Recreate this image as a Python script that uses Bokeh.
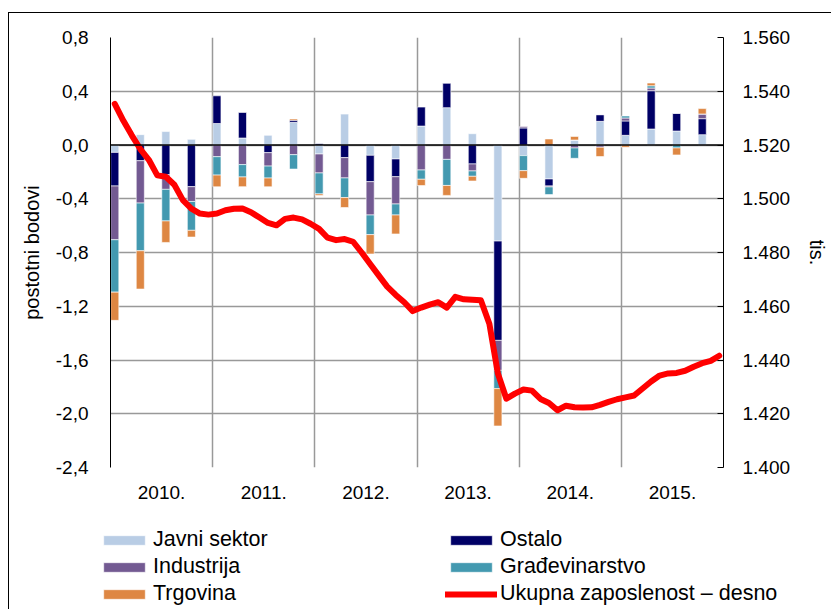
from bokeh.plotting import figure
from bokeh.models import (Range1d, LinearAxis, FixedTicker, CustomJSTickFormatter,
                          Span, Legend, LegendItem)
from bokeh.embed import file_html
from bokeh.resources import INLINE

# ---------------- data ----------------
years = ["2010.", "2011.", "2012.", "2013.", "2014.", "2015."]
left_ticks = [-2.4, -2.0, -1.6, -1.2, -0.8, -0.4, 0.0, 0.4, 0.8]
right_ticks = [1400, 1420, 1440, 1460, 1480, 1500, 1520, 1540, 1560]

series_names = ["Javni sektor", "Ostalo", "Industrija", "Građevinarstvo", "Trgovina"]
series_colors = ["#B9CDE5", "#000066", "#735A92", "#4399B0", "#DE8743"]
line_name = "Ukupna zaposlenost – desno"

# quarterly contributions (percentage points), 2010 Q1 .. 2015 Q4
javni = [-0.055, 0.077, 0.10, 0.042, 0.16, 0.052, 0.072, 0.169,
         -0.067, 0.23, -0.077, -0.104, 0.141, 0.278, 0.084, -0.715,
         -0.079, -0.253, 0.037, 0.176, 0.072, 0.119, 0.104, 0.077]
ostalo = [-0.25, -0.117, -0.22, -0.31, 0.206, 0.19, -0.057, 0.015,
          0.01, -0.094, -0.196, -0.132, 0.141, 0.181, -0.141, -0.739,
          0.127, -0.052, 0.0, 0.05, 0.107, 0.285, 0.132, 0.119]
industrija = [-0.40, -0.315, -0.11, -0.11, -0.087, -0.146, -0.10, -0.072,
              -0.141, -0.151, -0.248, -0.203, -0.186, -0.107, -0.052, -0.223,
              0.01, -0.007, -0.022, -0.017, 0.022, 0.02, 0.0, 0.035]
gradjevinarstvo = [-0.39, -0.355, -0.235, -0.215, -0.137, -0.092, -0.089, -0.107,
                   -0.156, -0.146, -0.146, -0.082, -0.069, -0.194, -0.040, -0.136,
                   -0.112, -0.057, -0.077, 0.0, 0.015, 0.017, -0.022, 0.0]
trgovina = [-0.21, -0.285, -0.16, -0.05, -0.087, -0.072, -0.065, 0.01,
            -0.012, -0.074, -0.144, -0.141, -0.047, -0.074, -0.035, -0.278,
            -0.057, 0.045, 0.027, -0.069, -0.017, 0.02, -0.052, 0.04]

# monthly total employment (thousands), Jan 2010 .. Dec 2015
zaposlenost = [1535.3, 1529.1, 1523.6, 1518.5, 1514.5, 1508.7, 1508.2, 1505.2, 1499.5, 1496.3, 1494.5, 1494.1,
               1494.5, 1495.7, 1496.3, 1496.4, 1495.0, 1493.0, 1491.0, 1490.1, 1492.5, 1493.0, 1492.3, 1490.7,
               1488.8, 1485.5, 1484.6, 1485.0, 1484.0, 1480.0, 1475.7, 1471.5, 1467.3, 1464.2, 1461.5, 1458.2,
               1459.5, 1460.6, 1461.5, 1459.5, 1463.5, 1462.6, 1462.4, 1462.2, 1453.5, 1435.0, 1425.6, 1427.5,
               1429.0, 1428.6, 1425.5, 1424.0, 1421.3, 1423.0, 1422.4, 1422.3, 1422.4, 1423.3, 1424.4, 1425.4,
               1426.1, 1426.8, 1429.4, 1432.0, 1434.2, 1435.0, 1435.2, 1436.0, 1437.5, 1438.8, 1439.7, 1441.6]

series = [javni, ostalo, industrija, gradjevinarstvo, trgovina]

# ---------------- main figure ----------------
FONT = "Liberation Sans"
months = list(range(len(zaposlenost)))
bar_x = [3 * q for q in range(len(javni))]

p = figure(width=823, height=502, output_backend="svg", toolbar_location=None,
           x_range=Range1d(-0.5, 71.5), y_range=Range1d(-2.4, 0.8),
           min_border_left=101, min_border_right=109, min_border_top=24,
           min_border_bottom=48)
p.outline_line_color = None
p.background_fill_color = "white"
p.border_fill_color = "white"
p.styles = {"margin-left": "8px", "margin-top": "12px",
            "border-left": "1px solid black", "border-top": "1px solid black"}

p.extra_y_ranges = {"right": Range1d(1400, 1560)}

# stacked bars (positives and negatives stacked separately)
pos = [0.0] * len(javni)
neg = [0.0] * len(javni)
for name, vals, col in zip(series_names, series, series_colors):
    tops, bottoms = [], []
    for i, v in enumerate(vals):
        if v >= 0:
            bottoms.append(pos[i]); tops.append(pos[i] + v); pos[i] += v
        else:
            tops.append(neg[i]); bottoms.append(neg[i] + v); neg[i] += v
    p.vbar(x=bar_x, width=0.95, top=tops, bottom=bottoms, fill_color=col,
           line_color="white", line_width=0.6)

p.add_layout(Span(location=0, dimension="width", line_color="black", line_width=1.5))

p.line(x=months, y=zaposlenost, y_range_name="right", line_color="#FF0000",
       line_width=6, line_join="round", line_cap="round")

# grids
p.xgrid.ticker = FixedTicker(ticks=[11.5, 23.5, 35.5, 47.5, 59.5])
p.xgrid.grid_line_color = "#999999"
p.xgrid.grid_line_width = 1.5
p.ygrid.ticker = FixedTicker(ticks=left_ticks)
p.ygrid.grid_line_color = "#999999"
p.ygrid.grid_line_width = 1.5

# x axis
xa = p.xaxis[0]
xa.ticker = FixedTicker(ticks=[5.5 + 12 * k for k in range(len(years))])
xa.major_label_overrides = {5.5 + 12 * k: y for k, y in enumerate(years)}
xa.axis_line_color = None
xa.major_tick_line_color = None
xa.minor_tick_line_color = None
xa.major_label_standoff = 12
xa.major_label_text_font = FONT
xa.major_label_text_font_size = "19px"
xa.major_label_text_color = "black"

# left axis
ya = p.yaxis[0]
ya.ticker = FixedTicker(ticks=left_ticks)
ya.formatter = CustomJSTickFormatter(
    code="if (Math.abs(tick) < 1e-9) { return '0,0'; } return tick.toFixed(1).replace('.', ',');")
ya.axis_label = "postotni bodovi"
ya.axis_line_color = "black"
ya.major_tick_line_color = None
ya.minor_tick_line_color = None
ya.major_label_standoff = 16
ya.axis_label_standoff = 10
ya.major_label_text_font = FONT
ya.major_label_text_font_size = "19px"
ya.major_label_text_color = "black"
ya.axis_label_text_font = FONT
ya.axis_label_text_font_size = "20px"
ya.axis_label_text_font_style = "normal"
ya.axis_label_text_color = "black"

# right axis
ra = LinearAxis(y_range_name="right", ticker=FixedTicker(ticks=right_ticks),
                formatter=CustomJSTickFormatter(code="return (tick/1000).toFixed(3);"),
                axis_label="tis.")
ra.axis_line_color = "black"
ra.major_tick_in = 6
ra.major_tick_out = 0
ra.major_tick_line_color = "black"
ra.minor_tick_line_color = None
ra.major_label_standoff = 19
ra.axis_label_standoff = 13
ra.major_label_text_font = FONT
ra.major_label_text_font_size = "19px"
ra.major_label_text_color = "black"
ra.axis_label_text_font = FONT
ra.axis_label_text_font_size = "20px"
ra.axis_label_text_font_style = "normal"
ra.axis_label_text_color = "black"
p.add_layout(ra, "right")

# ---------------- legend strip (separate root, same page) ----------------
lf = figure(width=823, height=95, output_backend="svg", toolbar_location=None,
            x_range=Range1d(0, 1), y_range=Range1d(0, 1), min_border=0,
            x_axis_location=None, y_axis_location=None)
lf.grid.visible = False
lf.outline_line_color = None
lf.border_fill_color = "white"
lf.styles = {"margin-left": "8px", "border-left": "1px solid black"}

# legend-only renderers: sample kept outside the visible range
leg_r = []
for col in series_colors:
    leg_r.append(lf.vbar(x=[-10], top=[-10], bottom=[-11], width=1, fill_color=col,
                         line_color="white", line_width=0.6))
leg_line = lf.line(x=[-10, -9], y=[-10, -10], line_color="#FF0000", line_width=6,
                   line_cap="round")


def make_legend(items, loc):
    lg = Legend(items=items, location=loc, orientation="vertical")
    lg.border_line_color = None
    lg.background_fill_alpha = 0
    lg.padding = 0
    lg.margin = 0
    lg.spacing = 2
    lg.glyph_width = 52
    lg.glyph_height = 12
    lg.label_standoff = 3
    lg.label_height = 24
    lg.label_text_font = FONT
    lg.label_text_font_size = "21.5px"
    lg.label_text_color = "black"
    return lg


leg1 = make_legend([LegendItem(label=series_names[0], renderers=[leg_r[0]]),
                    LegendItem(label=series_names[2], renderers=[leg_r[2]]),
                    LegendItem(label=series_names[4], renderers=[leg_r[4]])], (89, 3))
leg2 = make_legend([LegendItem(label=series_names[1], renderers=[leg_r[1]]),
                    LegendItem(label=series_names[3], renderers=[leg_r[3]]),
                    LegendItem(label=line_name, renderers=[leg_line])], (436, 3))
lf.add_layout(leg1)
lf.add_layout(leg2)

open("out.html", "w").write(file_html([p, lf], INLINE))
